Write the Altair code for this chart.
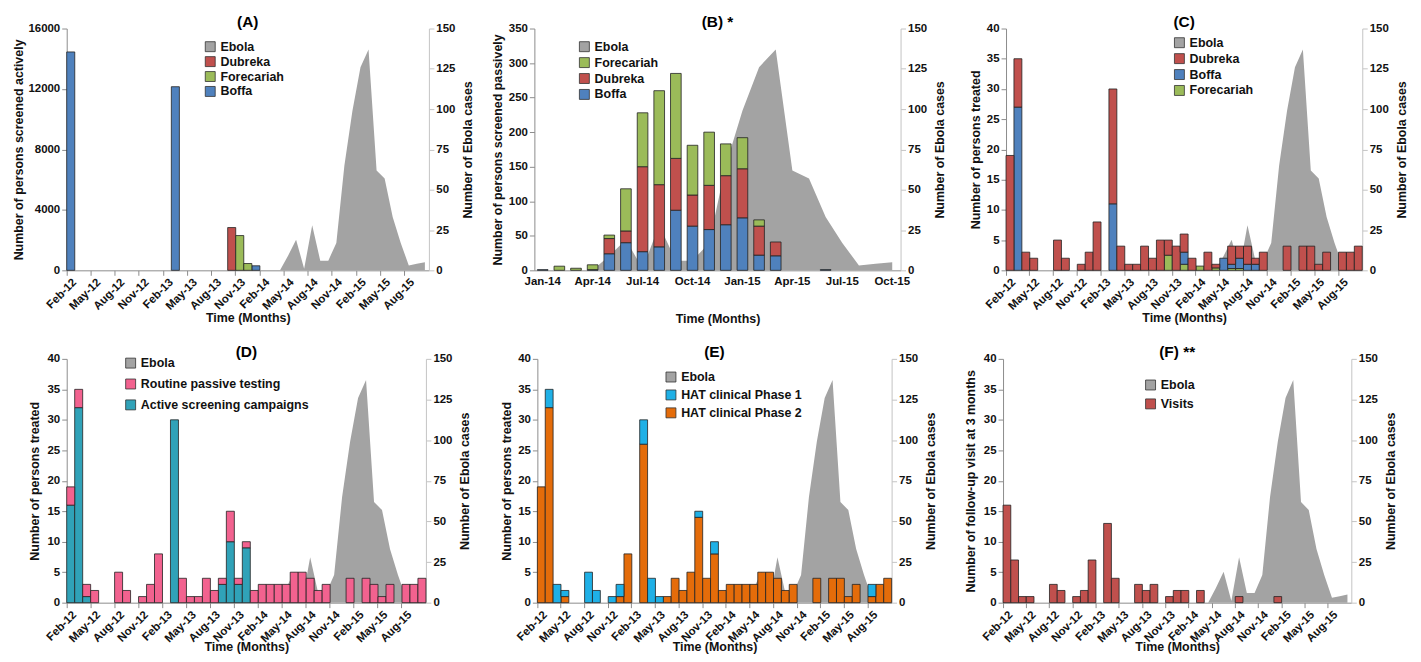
import altair as alt
import pandas as pd

FONT = "Liberation Sans"

# ---------------- categories ----------------
MONTHS = pd.date_range("2012-02-01", periods=45, freq="MS").strftime("%b-%y").tolist()   # Feb-12 .. Oct-15
TICK_MONTHS = MONTHS[::3]                                                                  # Feb-12 .. Aug-15
B_MONTHS = pd.date_range("2014-01-01", periods=22, freq="MS").strftime("%b-%y").tolist()  # Jan-14 .. Oct-15
B_TICKS = B_MONTHS[::3]

# ---------------- Ebola cases (right axis) ----------------
EBOLA_MONTHS = pd.date_range("2014-04-01", periods=19, freq="MS").strftime("%b-%y").tolist()
EBOLA_CASES = [0, 9, 19, 1, 28, 6, 6, 17, 65, 99, 126, 137, 62, 57, 33, 17, 3, 4, 5]

# ---------------- (A) persons screened actively ----------------
A_BOFFA = {"Feb-12": 14450, "Mar-13": 12150, "Jan-14": 300}
A_DUBREKA = {"Oct-13": 2830}
A_FORECARIAH = {"Nov-13": 2300, "Dec-13": 450}

# ---------------- (B) persons screened passively ----------------
B_BOFFA = {"Jan-14": 1, "Apr-14": 1, "May-14": 24, "Jun-14": 40, "Jul-14": 27, "Aug-14": 34,
           "Sep-14": 87, "Oct-14": 64, "Nov-14": 59, "Dec-14": 66, "Jan-15": 76, "Feb-15": 22,
           "Mar-15": 21, "Jun-15": 1}
B_DUBREKA = {"May-14": 22, "Jun-14": 17, "Jul-14": 123, "Aug-14": 90, "Sep-14": 75, "Oct-14": 45,
             "Nov-14": 64, "Dec-14": 71, "Jan-15": 71, "Feb-15": 42, "Mar-15": 20}
B_FORECARIAH = {"Feb-14": 6, "Mar-14": 3, "Apr-14": 7, "May-14": 5, "Jun-14": 61, "Jul-14": 78,
                "Aug-14": 136, "Sep-14": 123, "Oct-14": 72, "Nov-14": 77, "Dec-14": 46,
                "Jan-15": 45, "Feb-15": 9}

# ---------------- (C) persons treated by district ----------------
C_DUBREKA = {"Feb-12": 19, "Mar-12": 8, "Apr-12": 3, "May-12": 2, "Aug-12": 5, "Sep-12": 2,
             "Nov-12": 1, "Dec-12": 3, "Jan-13": 8, "Mar-13": 19, "Apr-13": 4, "May-13": 1,
             "Jun-13": 1, "Jul-13": 4, "Aug-13": 2, "Sep-13": 5, "Oct-13": 2.5, "Nov-13": 4,
             "Dec-13": 3, "Jan-14": 2, "Mar-14": 3, "Apr-14": 0.6, "Jun-14": 3, "Jul-14": 2,
             "Aug-14": 3, "Sep-14": 1, "Oct-14": 3, "Jan-15": 4, "Mar-15": 4, "Apr-15": 4,
             "May-15": 1, "Jun-15": 3, "Aug-15": 3, "Sep-15": 3, "Oct-15": 4}
C_BOFFA = {"Mar-12": 27, "Mar-13": 11, "Dec-13": 2, "May-14": 2, "Jun-14": 0.7, "Jul-14": 1.7,
           "Aug-14": 1, "Sep-14": 1}
C_FORECARIAH = {"Oct-13": 2.5, "Dec-13": 1, "Feb-14": 0.7, "Apr-14": 0.4, "Jun-14": 0.3,
                "Jul-14": 0.3}

# ---------------- (D) persons treated by detection mode ----------------
D_ACTIVE = {"Feb-12": 16, "Mar-12": 32, "Apr-12": 1, "Mar-13": 30, "Sep-13": 3, "Oct-13": 10,
            "Nov-13": 3, "Dec-13": 9}
D_ROUTINE = {"Feb-12": 3, "Mar-12": 3, "Apr-12": 2, "May-12": 2, "Aug-12": 5, "Sep-12": 2,
             "Nov-12": 1, "Dec-12": 3, "Jan-13": 8, "Apr-13": 4, "May-13": 1, "Jun-13": 1,
             "Jul-13": 4, "Aug-13": 2, "Sep-13": 1, "Oct-13": 5, "Nov-13": 1, "Dec-13": 1,
             "Jan-14": 2, "Feb-14": 3, "Mar-14": 3, "Apr-14": 3, "May-14": 3, "Jun-14": 5,
             "Jul-14": 5, "Aug-14": 4, "Sep-14": 2, "Oct-14": 3, "Jan-15": 4, "Mar-15": 4,
             "Apr-15": 3, "May-15": 1, "Jun-15": 3, "Aug-15": 3, "Sep-15": 3, "Oct-15": 4}

# ---------------- (E) persons treated by clinical phase ----------------
E_PHASE2 = {"Feb-12": 19, "Mar-12": 32, "May-12": 1, "Dec-12": 1, "Jan-13": 8, "Mar-13": 26,
            "Jun-13": 1, "Jul-13": 4, "Aug-13": 2, "Sep-13": 5, "Oct-13": 14, "Nov-13": 4,
            "Dec-13": 8, "Jan-14": 2, "Feb-14": 3, "Mar-14": 3, "Apr-14": 3, "May-14": 3,
            "Jun-14": 5, "Jul-14": 5, "Aug-14": 4, "Sep-14": 2, "Oct-14": 3, "Jan-15": 4,
            "Mar-15": 4, "Apr-15": 4, "May-15": 1, "Jun-15": 3, "Aug-15": 1, "Sep-15": 3,
            "Oct-15": 4}
E_PHASE1 = {"Mar-12": 3, "Apr-12": 3, "May-12": 1, "Aug-12": 5, "Sep-12": 2, "Nov-12": 1,
            "Dec-12": 2, "Mar-13": 4, "Apr-13": 4, "May-13": 1, "Oct-13": 1, "Dec-13": 2,
            "Aug-15": 2}

# ---------------- (F) follow-up visits ----------------
F_VISITS = {"Feb-12": 16, "Mar-12": 7, "Apr-12": 1, "May-12": 1, "Aug-12": 3, "Sep-12": 2,
            "Nov-12": 1, "Dec-12": 2, "Jan-13": 7, "Mar-13": 13, "Apr-13": 4, "Jul-13": 3,
            "Aug-13": 2, "Sep-13": 3, "Nov-13": 1, "Dec-13": 2, "Jan-14": 2, "Mar-14": 2,
            "Aug-14": 1, "Jan-15": 1}

GREY = "#a3a3a3"
BLUE = "#4f81bd"
RED = "#c0504d"
GREEN = "#9bbb59"
PINK = "#f2628f"
TEAL = "#30a2b8"
SKY = "#1fb0e6"
ORANGE = "#e46c0a"


def panel(title, months, series, stack_bottom_to_top, legend_order, colors, left_title,
          left_values, width, height, legend_x, legend_y, row_pad, wide_axis=True,
          left_title_pad=4, x_title_pad=0):
    rows = []
    for name, d in series.items():
        for m, v in d.items():
            rows.append({"month": m, "series": name, "value": v,
                         "order": stack_bottom_to_top.index(name)})
    bars_df = pd.DataFrame(rows)
    ebola_df = pd.DataFrame({"month": EBOLA_MONTHS, "series": "Ebola", "value": EBOLA_CASES})

    domain = ["Ebola"] + legend_order
    rng = [GREY] + [colors[n] for n in legend_order]
    color = alt.Color("series:N", scale=alt.Scale(domain=domain, range=rng),
                      legend=alt.Legend(orient="none", legendX=legend_x, legendY=legend_y,
                                        title=None, symbolType="square", symbolSize=100,
                                        symbolStrokeWidth=0.8, symbolStrokeColor="#333",
                                        labelFontSize=12.5, labelFont=FONT,
                                        labelFontWeight="bold", rowPadding=row_pad,
                                        labelLimit=300))
    if wide_axis:
        xscale = alt.Scale(domain=months, paddingInner=0.0, paddingOuter=0.0)
        xaxis = alt.Axis(values=TICK_MONTHS, bandPosition=0, labelAngle=315, labelOverlap=False,
                         title="Time (Months)", titlePadding=x_title_pad, labelPadding=1,
                         tickSize=5)
    else:
        xscale = alt.Scale(domain=months, paddingInner=0.36, paddingOuter=0.18)
        xaxis = alt.Axis(values=B_TICKS, labelAngle=0, labelOverlap=False, ticks=False,
                         title="Time (Months)", titlePadding=26, labelPadding=5)

    area = alt.Chart(ebola_df).mark_area(color=GREY, opacity=1).encode(
        x=alt.X("month:O", scale=xscale, sort=months, axis=xaxis, bandPosition=0.5),
        y=alt.Y("value:Q", scale=alt.Scale(domain=[0, 150], nice=False),
                axis=alt.Axis(orient="right", values=[0, 25, 50, 75, 100, 125, 150],
                              title="Number of Ebola cases", titleAngle=270,
                              titleBaseline="top", titlePadding=7, domainColor="#c4c4c4",
                              tickColor="#c4c4c4")),
        color=color,
    )
    bars = alt.Chart(bars_df).mark_bar(stroke="#222", strokeWidth=0.8).encode(
        x=alt.X("month:O", scale=xscale, sort=months, axis=xaxis),
        y=alt.Y("value:Q", stack="zero",
                scale=alt.Scale(domain=[0, left_values[-1]], nice=False),
                axis=alt.Axis(orient="left", values=left_values, title=left_title,
                              format="d", titlePadding=left_title_pad)),
        color=color,
        order=alt.Order("order:Q", sort="ascending"),
    )
    return alt.layer(area, bars).resolve_scale(y="independent").properties(
        width=width, height=height,
        title=alt.TitleParams(title, anchor="middle", fontSize=15.5, fontWeight="bold",
                              font=FONT, offset=-8))


pA = panel("(A)", MONTHS,
           {"Boffa": A_BOFFA, "Dubreka": A_DUBREKA, "Forecariah": A_FORECARIAH},
           ["Boffa", "Forecariah", "Dubreka"], ["Dubreka", "Forecariah", "Boffa"],
           {"Dubreka": RED, "Forecariah": GREEN, "Boffa": BLUE},
           "Number of persons screened actively", [0, 4000, 8000, 12000, 16000],
           364, 243, 138, 12, 1, left_title_pad=2)
pB = panel("(B) *", B_MONTHS,
           {"Boffa": B_BOFFA, "Dubreka": B_DUBREKA, "Forecariah": B_FORECARIAH},
           ["Boffa", "Dubreka", "Forecariah"], ["Forecariah", "Dubreka", "Boffa"],
           {"Dubreka": RED, "Forecariah": GREEN, "Boffa": BLUE},
           "Number of persons screened passively", list(range(0, 351, 50)),
           368, 243, 44, 12, 2, wide_axis=False)
pC = panel("(C)", MONTHS,
           {"Forecariah": C_FORECARIAH, "Boffa": C_BOFFA, "Dubreka": C_DUBREKA},
           ["Forecariah", "Boffa", "Dubreka"], ["Dubreka", "Boffa", "Forecariah"],
           {"Dubreka": RED, "Forecariah": GREEN, "Boffa": BLUE},
           "Number of persons treated", list(range(0, 41, 5)),
           358, 243, 168, 8, 2)
pD = panel("(D)", MONTHS,
           {"Active screening campaigns": D_ACTIVE, "Routine passive testing": D_ROUTINE},
           ["Active screening campaigns", "Routine passive testing"],
           ["Routine passive testing", "Active screening campaigns"],
           {"Routine passive testing": PINK, "Active screening campaigns": TEAL},
           "Number of persons treated", list(range(0, 41, 5)),
           361, 245, 58, -2, 7, left_title_pad=6, x_title_pad=-4)
pE = panel("(E)", MONTHS,
           {"HAT clinical Phase 2": E_PHASE2, "HAT clinical Phase 1": E_PHASE1},
           ["HAT clinical Phase 2", "HAT clinical Phase 1"],
           ["HAT clinical Phase 1", "HAT clinical Phase 2"],
           {"HAT clinical Phase 1": SKY, "HAT clinical Phase 2": ORANGE},
           "Number of persons treated", list(range(0, 41, 5)),
           356, 245, 128, 12, 4, x_title_pad=-4)
pF = panel("(F) **", MONTHS,
           {"Visits": F_VISITS}, ["Visits"], ["Visits"], {"Visits": RED},
           "Number of follow-up visit at 3 months", list(range(0, 41, 5)),
           350, 245, 142, 20, 5, left_title_pad=6, x_title_pad=-4)

row1 = alt.hconcat(pA, pB, pC, spacing=106, bounds="flush").resolve_scale(color="independent")
row2 = alt.hconcat(pD, pE, pF, spacing=112, bounds="flush").resolve_scale(color="independent")
chart = alt.vconcat(row1, row2, spacing=20).resolve_scale(
    color="independent").configure_axis(
    labelFont=FONT, labelFontWeight="bold", labelFontSize=11.5, labelColor="#111",
    titleFont=FONT, titleFontWeight="bold", titleFontSize=12.5, titleColor="#111",
    grid=False, domainColor="#8c8c8c", tickColor="#8c8c8c",
).configure_view(stroke=None).configure_legend(labelColor="#111")

chart.save("out.html", embed_options={"renderer": "svg", "actions": False})
